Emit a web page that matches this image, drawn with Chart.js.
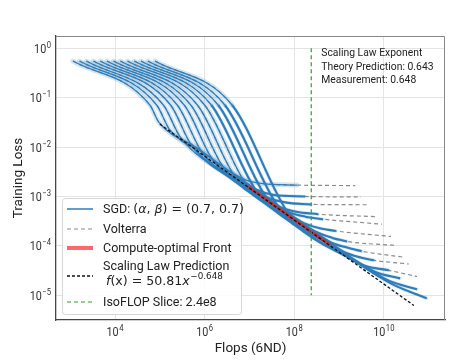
<!DOCTYPE html>
<html>
<head>
<meta charset="utf-8">
<script src="https://cdn.jsdelivr.net/npm/chart.js@4.4.1/dist/chart.umd.min.js"></script>
<style>
  html, body { margin: 0; padding: 0; background: #fff; }
  #wrap { width: 468px; height: 362px; }
</style>
</head>
<body>
<div id="wrap"><canvas id="lossChart" width="468" height="362"></canvas></div>
<script>
// SGD loss curves, one per model size, as [flops, loss]
const run01 = [[1.15e3, 0.55], [6.0e4, 7.1e-2], [9.5e4, 3.2e-2], [6.3e5, 1.0e-2], [3.16e6, 3.5e-3], [7.9e6, 2.19e-3], [2.0e7, 1.82e-3], [1.15e8, 1.70e-3]];
const run02 = [[1.62e3, 0.55], [8.5e4, 7.1e-2], [1.66e5, 2.25e-2], [1.0e6, 7.4e-3], [5.6e6, 2.41e-3], [1.41e7, 1.38e-3], [3.55e7, 1.07e-3], [1.74e8, 1.0e-3]];
const run03 = [[2.3e3, 0.55], [1.2e5, 7.1e-2], [2.9e5, 1.57e-2], [8.9e6, 1.79e-3], [2.51e7, 9.55e-4], [6.31e7, 7.6e-4], [2.37e8, 6.9e-4]];
const run04 = [[3.3e3, 0.55], [1.74e5, 7.1e-2], [5.1e5, 1.09e-2], [1.58e7, 1.23e-3], [4.5e7, 6.31e-4], [1.12e8, 4.9e-4], [3.4e8, 4.37e-4]];
const run05 = [[4.7e3, 0.55], [2.45e5, 7.1e-2], [9.0e5, 7.55e-3], [2.24e7, 9.84e-4], [7.1e7, 4.9e-4], [1.78e8, 3.9e-4], [4.4e8, 3.47e-4]];
const run06 = [[6.6e3, 0.55], [3.5e5, 7.1e-2], [1.57e6, 5.3e-3], [4.0e7, 6.8e-4], [1.41e8, 3.1e-4], [3.55e8, 2.29e-4], [8.5e8, 2.0e-4]];
const run07 = [[9.3e3, 0.55], [4.9e5, 7.1e-2], [2.75e6, 3.66e-3], [7.9e7, 4.3e-4], [2.8e8, 2.0e-4], [7.1e8, 1.45e-4], [1.51e9, 1.23e-4]];
const run08 = [[1.32e4, 0.55], [6.9e5, 7.1e-2], [4.8e6, 2.54e-3], [1.58e8, 2.77e-4], [6.31e8, 1.2e-4], [1.58e9, 9.12e-5], [3.2e9, 7.8e-5]];
const run09 = [[1.9e4, 0.55], [1.0e6, 7.1e-2], [8.5e6, 1.77e-3], [3.16e8, 1.77e-4], [1.26e9, 7.6e-5], [3.16e9, 5.75e-5], [6.0e9, 5.1e-5]];
const run10 = [[2.7e4, 0.55], [1.41e6, 7.1e-2], [1.49e7, 1.23e-3], [6.31e8, 1.13e-4], [3.16e9, 4.2e-5], [1.29e10, 3.2e-5]];
const run11 = [[3.8e4, 0.55], [2.0e6, 7.1e-2], [2.6e7, 8.5e-4], [1.0e9, 8.4e-5], [6.31e9, 3.0e-5], [2.3e10, 2.2e-5]];
const run12 = [[5.4e4, 0.55], [2.82e6, 7.1e-2], [4.6e7, 5.9e-4], [2.0e9, 5.4e-5], [1.26e10, 2.0e-5], [5.5e10, 1.32e-5]];
const run13 = [[7.8e4, 0.55], [4.1e6, 7.1e-2], [8.0e7, 4.1e-4], [2.5e9, 4.6e-5], [1.58e10, 1.66e-5], [9.1e10, 8.7e-6]];

// where each Volterra curve stops (it follows the SGD run up to there)
const volterraEnd = [[2.3e9, 1.66e-3], [3.1e9, 9.77e-4], [4.7e9, 6.8e-4], [7.1e9, 3.9e-4], [9.1e9, 2.75e-4],
                     [1.45e10, 1.55e-4], [1.95e10, 1.02e-4], [2.8e10, 5.9e-5], [3.6e10, 4.3e-5], [5.5e10, 2.4e-5],
                     null, null, null];

const computeFront = [[9.3e6, 1.6e-3], [8.0e7, 3.95e-4], [6.3e8, 1.04e-4]];
const scalingLaw = [[1e5, 2.92e-2], [4.7e10, 6.2e-6]];
const isoFlop = 2.4e8;
const isoFlopSpan = [1, 1e-5];

const xTicks = [1e4, 1e6, 1e8, 1e10];
const yTicks = [1, 1e-1, 1e-2, 1e-3, 1e-4, 1e-5];
const xRange = [482, 2.32e11];
const yRange = [3.16e-6, 1.77];

const runs = [run01, run02, run03, run04, run05, run06, run07, run08, run09, run10, run11, run12, run13];

const BLUE = '#2e7dbb';
const toXY = arr => arr.map(p => ({ x: p[0], y: p[1] }));

const datasets = [];
runs.forEach((run, i) => {
    // shaded spread around each run
    datasets.push({
        data: toXY(run), borderColor: 'rgba(60,140,200,0.22)', borderWidth: 5,
        borderCapStyle: 'round', borderJoinStyle: 'round',
        segment: { borderWidth: ctx => (ctx.p1.parsed.y > 1.5e-3 ? 5 : 3.5) },
        pointRadius: 0, cubicInterpolationMode: 'monotone', order: 60
    });
    datasets.push({
        data: toXY(run), borderColor: BLUE, borderWidth: 1.25,
        segment: { borderWidth: ctx => (ctx.p1.parsed.y > 1.5e-3 ? 1.25 : 2.1) },
        pointRadius: 0, cubicInterpolationMode: 'monotone', order: 50
    });
    const vol = volterraEnd[i] ? run.concat([volterraEnd[i]]) : run;
    datasets.push({
        data: toXY(vol), borderColor: 'rgba(125,125,125,0.9)', borderWidth: 1.2, borderDash: [4, 3],
        pointRadius: 0, cubicInterpolationMode: 'monotone', order: 55
    });
});
datasets.push({ data: toXY(computeFront), borderColor: 'rgba(225,35,35,0.85)', borderWidth: 3, pointRadius: 0, order: 30 });
datasets.push({ data: toXY(scalingLaw), borderColor: '#111', borderWidth: 1.3, borderDash: [3, 2], pointRadius: 0, order: 20 });
datasets.push({
    data: isoFlopSpan.map(v => ({ x: isoFlop, y: v })),
    borderColor: '#2ca02c', borderWidth: 1.2, borderDash: [4, 3], pointRadius: 0, order: 10
});

function txt(ctx, s, x, y, font, color, align, sx) {
    sx = sx || 1;
    ctx.save();
    ctx.font = font;
    ctx.fillStyle = color;
    ctx.textBaseline = 'alphabetic';
    ctx.textAlign = 'left';
    const w = ctx.measureText(s).width * sx;
    const x0 = align === 'right' ? x - w : align === 'center' ? x - w / 2 : x;
    ctx.translate(x0, y);
    ctx.scale(sx, 1);
    ctx.fillText(s, 0, 0);
    ctx.restore();
    return w;
}
function textWidth(ctx, s, font, sx) {
    ctx.save(); ctx.font = font;
    const w = ctx.measureText(s).width * (sx || 1);
    ctx.restore();
    return w;
}

// "10" with a raised exponent
function pow10(ctx, exp, x, y, align) {
    const base = '12px Roboto', sup = '8.5px Roboto', sx = 0.9;
    const e = String(exp).replace('-', '\u2212');
    const w = textWidth(ctx, '10', base, sx) + textWidth(ctx, e, sup, sx) + 0.5;
    const x0 = align === 'right' ? x - w : x - w / 2;
    const w1 = txt(ctx, '10', x0, y, base, '#333', 'left', sx);
    txt(ctx, e, x0 + w1 + 0.5, y - 5, sup, '#333', 'left', sx);
}

const decor = {
    id: 'decor',
    afterDatasetsDraw(chart) {
        const { ctx, chartArea: a, scales } = chart;
        // top / right spines
        ctx.save();
        ctx.strokeStyle = '#888';
        ctx.lineWidth = 1;
        ctx.beginPath();
        ctx.moveTo(a.left, a.top + 0.5); ctx.lineTo(a.right - 0.5, a.top + 0.5); ctx.lineTo(a.right - 0.5, a.bottom);
        ctx.stroke();
        ctx.restore();

        // tick labels
        yTicks.forEach(v => pow10(ctx, Math.round(Math.log10(v)), a.left - 5, scales.y.getPixelForValue(v) + 4.5, 'right'));
        xTicks.forEach(v => pow10(ctx, Math.round(Math.log10(v)), scales.x.getPixelForValue(v), a.bottom + 16, 'center'));

        // axis titles
        txt(ctx, 'Flops (6ND)', (a.left + a.right) / 2, 352, '13.5px Roboto', '#222', 'center');
        ctx.save();
        ctx.translate(22, (a.top + a.bottom) / 2);
        ctx.rotate(-Math.PI / 2);
        txt(ctx, 'Training Loss', 0, 0, '13.5px Roboto', '#222', 'center');
        ctx.restore();

        // exponent annotation
        const ax = scales.x.getPixelForValue(isoFlop) + 10;
        ['Scaling Law Exponent', 'Theory Prediction: 0.643', 'Measurement: 0.648'].forEach((s, i) => {
            txt(ctx, s, ax, 56 + i * 13.6, '10.8px Roboto', '#222', 'left', 0.96);
        });

        // legend
        const L = { x: 62, y: 198, w: 179, h: 116 };
        ctx.save();
        ctx.fillStyle = 'rgba(255,255,255,0.85)';
        ctx.strokeStyle = '#d6d6d6';
        ctx.lineWidth = 1;
        ctx.beginPath();
        ctx.roundRect(L.x + 0.5, L.y + 0.5, L.w, L.h, 3);
        ctx.fill();
        ctx.stroke();
        ctx.restore();

        const hx0 = 67, hx1 = 93, tx = 103;
        const handle = (y, color, width, dash) => {
            ctx.save();
            ctx.strokeStyle = color; ctx.lineWidth = width; ctx.setLineDash(dash);
            ctx.beginPath(); ctx.moveTo(hx0, y); ctx.lineTo(hx1, y); ctx.stroke();
            ctx.restore();
        };
        const tf = '12.5px Roboto', mf = '12.6px "DejaVu Sans"', mfi = 'oblique 12.6px "DejaVu Sans"';

        handle(209, BLUE, 1.5, []);
        let x = tx + txt(ctx, 'SGD: ', tx, 213, tf, '#222');
        [['(', mf], ['\u03b1', mfi], [', ', mf], ['\u03b2', mfi], [') = (0.7, 0.7)', mf]].forEach(([s, f]) => {
            x += txt(ctx, s, x, 213, f, '#222');
        });

        handle(229, 'rgba(125,125,125,0.9)', 1.2, [4, 3]);
        txt(ctx, 'Volterra', tx, 233, tf, '#222');

        handle(248, 'rgba(250,90,90,0.9)', 4, []);
        txt(ctx, 'Compute-optimal Front', tx, 252, tf, '#222');

        handle(276, '#111', 1.3, [3, 2]);
        txt(ctx, 'Scaling Law Prediction', tx, 270, tf, '#222');
        x = tx + 3;
        x += txt(ctx, 'f', x, 285, mfi, '#222');
        x += txt(ctx, '(x) = 50.81', x, 285, mf, '#222');
        x += txt(ctx, 'x', x, 285, mfi, '#222');
        txt(ctx, '\u22120.648', x + 0.5, 279, '8.8px "DejaVu Sans"', '#222');

        handle(302, '#2ca02c', 1.2, [4, 3]);
        txt(ctx, 'IsoFLOP Slice: 2.4e8', tx, 306, tf, '#222');
    }
};

const axisOpts = (range, ticks) => ({
    type: 'logarithmic',
    min: range[0],
    max: range[1],
    afterBuildTicks: s => { s.ticks = ticks.map(v => ({ value: v })); },
    ticks: { display: false },
    grid: { color: '#e4e4e4', lineWidth: 1, drawTicks: false },
    border: { color: '#444', width: 1.3 }
});

new Chart(document.getElementById('lossChart'), {
    type: 'line',
    data: { datasets },
    options: {
        responsive: false,
        animation: false,
        devicePixelRatio: 1,
        layout: { padding: { left: 56, right: 23, top: 36, bottom: 42 } },
        scales: { x: axisOpts(xRange, xTicks), y: axisOpts(yRange, yTicks) },
        plugins: { legend: { display: false }, tooltip: { enabled: false } }
    },
    plugins: [decor]
});
</script>
</body>
</html>
